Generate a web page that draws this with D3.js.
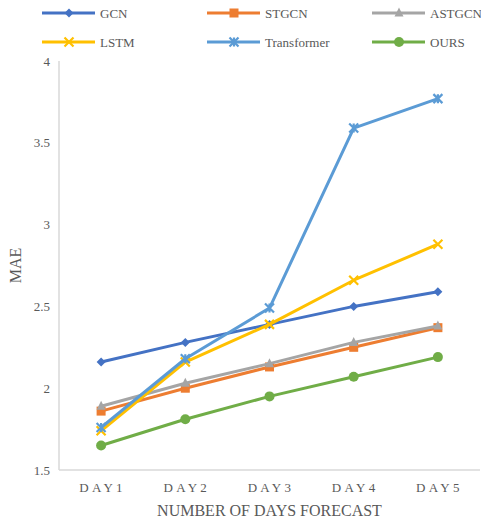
<!DOCTYPE html>
<html>
<head>
<meta charset="utf-8">
<script src="https://cdn.jsdelivr.net/npm/d3@7"></script>
<style>
  body { margin: 0; background: #fff; }
  svg { display: block; font-family: "Liberation Serif", "Times New Roman", serif; }
</style>
</head>
<body>
<div id="chart"></div>
<script>
const days = ["DAY1", "DAY2", "DAY3", "DAY4", "DAY5"];
const yTicks = [1.5, 2, 2.5, 3, 3.5, 4];
const seriesNames = ["GCN", "STGCN", "ASTGCN", "LSTM", "Transformer", "OURS"];
const gcn = [2.16, 2.28, 2.39, 2.50, 2.59];
const stgcn = [1.86, 2.00, 2.13, 2.25, 2.37];
const astgcn = [1.89, 2.03, 2.15, 2.28, 2.38];
const lstm = [1.74, 2.16, 2.39, 2.66, 2.88];
const transformer = [1.76, 2.18, 2.49, 3.59, 3.77];
const ours = [1.65, 1.81, 1.95, 2.07, 2.19];

const colors = ["#4472C4", "#ED7D31", "#A5A5A5", "#FFC000", "#5B9BD5", "#70AD47"];
const markers = ["diamond", "square", "triangle", "x", "star", "circle"];
const values = [gcn, stgcn, astgcn, lstm, transformer, ours];
const series = seriesNames.map((name, i) => ({ name, values: values[i], color: colors[i], marker: markers[i] }));

const W = 481, H = 520;
const margin = { left: 59, right: 1, top: 61, bottom: 50 };

const svg = d3.select("#chart").append("svg").attr("width", W).attr("height", H);

const x = d3.scaleBand().domain(days).range([margin.left, W - margin.right]);
const y = d3.scaleLinear().domain([1.5, 4]).range([H - margin.bottom, margin.top]);

// axes lines
svg.append("line").attr("x1", margin.left).attr("x2", margin.left)
  .attr("y1", y(4)).attr("y2", y(1.5)).attr("stroke", "#d9d9d9").attr("stroke-width", 1.5);
svg.append("line").attr("x1", margin.left).attr("x2", W - margin.right)
  .attr("y1", y(1.5)).attr("y2", y(1.5)).attr("stroke", "#d9d9d9").attr("stroke-width", 1.5);

// y tick labels
svg.append("g").selectAll("text").data(yTicks).join("text")
  .attr("x", 50).attr("y", d => y(d)).attr("dy", "0.35em")
  .attr("text-anchor", "end").attr("font-size", 13).attr("fill", "#595959")
  .text(d => d);

// x tick labels (letter-spaced)
svg.append("g").selectAll("text").data(days).join("text")
  .attr("x", d => x(d) + x.bandwidth() / 2 + 1.5).attr("y", 492)
  .attr("text-anchor", "middle").attr("font-size", 13).attr("fill", "#595959")
  .attr("letter-spacing", "3.3px")
  .text(d => d);

// axis titles
svg.append("text").attr("x", (margin.left + W - margin.right) / 2).attr("y", 516)
  .attr("text-anchor", "middle").attr("font-size", 16).attr("fill", "#595959")
  .text("NUMBER OF DAYS FORECAST");
svg.append("text").attr("transform", `translate(21,${(y(4) + y(1.5)) / 2}) rotate(-90)`)
  .attr("text-anchor", "middle").attr("font-size", 16).attr("fill", "#595959")
  .text("MAE");

function drawMarker(g, type, color, cx, cy) {
  const s = 4.5;
  if (type === "diamond") {
    g.append("path").attr("d", `M${cx},${cy - s} L${cx + s},${cy} L${cx},${cy + s} L${cx - s},${cy} Z`).attr("fill", color);
  } else if (type === "square") {
    g.append("rect").attr("x", cx - s).attr("y", cy - s).attr("width", 2 * s).attr("height", 2 * s).attr("fill", color);
  } else if (type === "triangle") {
    g.append("path").attr("d", `M${cx},${cy - s - 1} L${cx + s},${cy + s - 1} L${cx - s},${cy + s - 1} Z`).attr("fill", color);
  } else if (type === "circle") {
    g.append("circle").attr("cx", cx).attr("cy", cy).attr("r", s + 0.5).attr("fill", color);
  } else if (type === "x") {
    g.append("path").attr("d", `M${cx - s},${cy - s} L${cx + s},${cy + s} M${cx - s},${cy + s} L${cx + s},${cy - s}`)
      .attr("stroke", color).attr("stroke-width", 2.2);
  } else if (type === "star") {
    g.append("path").attr("d", `M${cx - s},${cy - s} L${cx + s},${cy + s} M${cx - s},${cy + s} L${cx + s},${cy - s} M${cx},${cy - s} L${cx},${cy + s}`)
      .attr("stroke", color).attr("stroke-width", 2.2);
  }
}

const line = d3.line().x((d, i) => x(days[i]) + x.bandwidth() / 2).y(d => y(d));

series.forEach(s => {
  const g = svg.append("g");
  g.append("path").datum(s.values).attr("d", line)
    .attr("fill", "none").attr("stroke", s.color).attr("stroke-width", 3)
    .attr("stroke-linejoin", "round");
  s.values.forEach((v, i) => drawMarker(g, s.marker, s.color, x(days[i]) + x.bandwidth() / 2, y(v)));
});

// legend
const legendCols = [42, 207, 372];
const legendRows = [13, 42];
series.forEach((s, i) => {
  const lx = legendCols[i % 3], ly = legendRows[Math.floor(i / 3)];
  const g = svg.append("g");
  g.append("line").attr("x1", lx).attr("x2", lx + 53).attr("y1", ly).attr("y2", ly)
    .attr("stroke", s.color).attr("stroke-width", 3);
  drawMarker(g, s.marker, s.color, lx + 27, ly);
  g.append("text").attr("x", lx + 58).attr("y", ly).attr("dy", "0.35em")
    .attr("font-size", 13).attr("fill", "#595959").text(s.name);
});
</script>
</body>
</html>
